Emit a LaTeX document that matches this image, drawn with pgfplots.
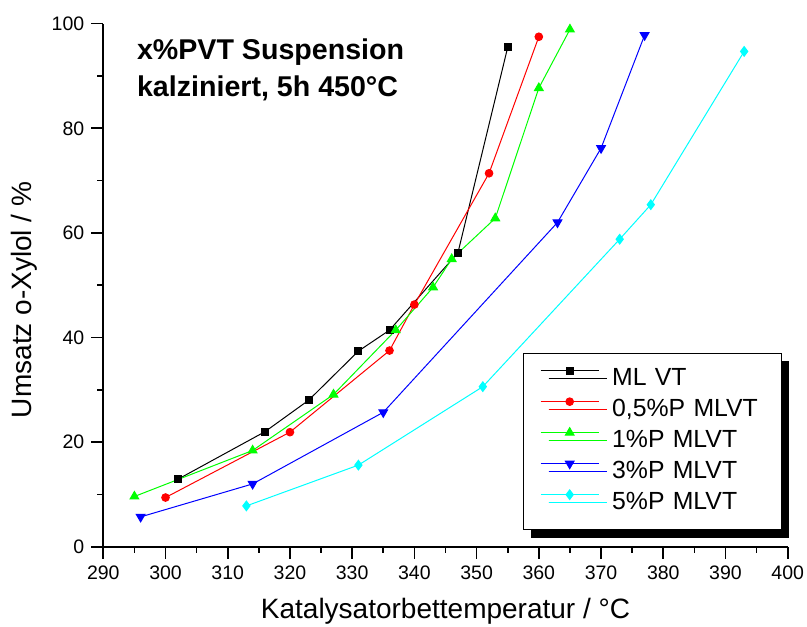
\documentclass[border=0pt]{standalone}
\usepackage{fontspec}
\setmainfont{Liberation Sans}
\usepackage{pgfplots}
\pgfplotsset{compat=1.18}
\usetikzlibrary{shadows}
\definecolor{mygreen}{rgb}{0,1,0}
\definecolor{mycyan}{rgb}{0,1,1}
\begin{document}
\begin{tikzpicture}
\begin{axis}[
  at={(0,0)}, anchor=south west,
  scale only axis, width=342.2bp, height=261.5bp,
  xmin=290, xmax=400, ymin=0, ymax=100,
  axis lines=left,
  axis line style={-, line width=1bp},
  xtick={290,300,...,400}, ytick={0,20,...,100},
  minor x tick num=1, minor y tick num=1,
  tick align=outside,
  major tick length=6bp, minor tick length=3bp,
  every tick/.style={line width=0.8bp, black},
  /pgf/number format/assume math mode=true,
  /pgf/number format/1000 sep={},
  tick label style={font=\fontsize{9.75bp}{11bp}\selectfont},
  xlabel={Katalysatorbettemperatur / °C},
  ylabel={Umsatz o-Xylol / \%},
  label style={font=\fontsize{14bp}{16bp}\selectfont},
  xlabel style={at={(axis description cs:0.5,-0.1382)}, anchor=base},
  ylabel style={at={(axis description cs:-0.1042,0.472)}, anchor=base},
  clip=false,
  legend style={at={(rel axis cs:0.6128,0.371)}, anchor=north west,
    draw=black, line width=0.5bp, fill=white,
    drop shadow={shadow xshift=4bp, shadow yshift=-4bp, fill=black, opacity=1},
    font=\fontsize{12.4bp}{14bp}\selectfont,
    inner xsep=8.5bp, inner ysep=5.4bp,
    nodes={inner xsep=1bp, inner ysep=2bp, text height=9bp, text depth=2.5bp},
    /tikz/column 1/.style={column sep=5.5bp},
    /tikz/column 2/.style={text width=75bp, align=left}},
  legend cell align=left,
  legend image code/.code={\draw[mark repeat=2, mark phase=2] plot coordinates {(0bp,4.4bp) (14.5bp,4.4bp) (29bp,4.4bp)};},
]
\addplot[black, line width=0.5bp, mark=square*, mark size=1.75bp, mark options={solid}] coordinates {
(302,12.9) (316,22.0) (323,28.0) (331,37.4) (336,41.4) (347,56.2) (355,95.5)};
\addlegendentry{\mbox{ML VT}}
\addplot[red, line width=0.5bp, mark=*, mark size=1.9bp, mark options={solid, fill=red}] coordinates {
(300,9.4) (320,21.9) (336,37.5) (340,46.3) (352,71.4) (360,97.5)};
\addlegendentry{\mbox{0,5\%P MLVT}}
\addplot[mygreen, line width=0.5bp, mark=triangle*, mark size=2.5bp, mark options={solid, fill=mygreen}] coordinates {
(295,9.6) (314,18.4) (327,29.1) (337,41.4) (343,49.6) (346,55.0) (353,62.8) (360,87.7) (365,98.9)};
\addlegendentry{\mbox{1\%P MLVT}}
\addplot[blue, line width=0.5bp, mark=triangle*, mark size=2.5bp, mark options={solid, fill=blue, rotate=180}] coordinates {
(296,5.7) (314,12.0) (335,25.7) (363,62.0) (370,76.2) (377,97.8)};
\addlegendentry{\mbox{3\%P MLVT}}
\addplot[mycyan, line width=0.5bp, mark=diamond*, mark size=2.4bp, mark options={solid, fill=mycyan}] coordinates {
(313,7.8) (331,15.6) (351,30.6) (373,58.8) (378,65.4) (393,94.7)};
\addlegendentry{\mbox{5\%P MLVT}}
\node[anchor=base west, font=\bfseries\fontsize{14.3bp}{17bp}\selectfont, inner sep=0pt] at (rel axis cs:0.0488,0.9306) {x\%PVT Suspension};
\node[anchor=base west, font=\bfseries\fontsize{14.3bp}{17bp}\selectfont, inner sep=0pt] at (rel axis cs:0.0488,0.8599) {kalziniert, 5h 450°C};
\end{axis}
\pgfresetboundingbox
\path (-51.65bp,-40.15bp) rectangle (351.85bp,273.35bp);
\end{tikzpicture}
\end{document}
